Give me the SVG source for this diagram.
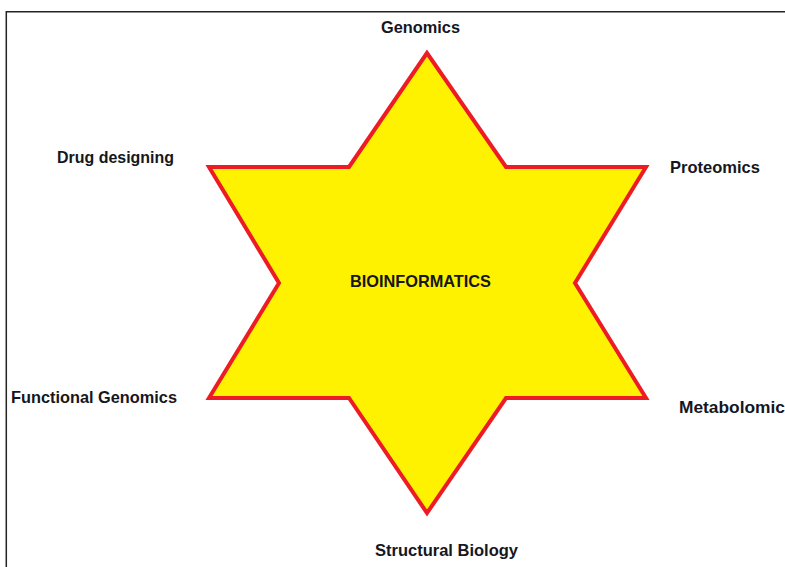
<svg xmlns="http://www.w3.org/2000/svg" width="785" height="567" viewBox="0 0 785 567">
<style>
.lbl{font-family:"Liberation Sans",Arial,sans-serif;font-weight:bold;font-size:17px;fill:#16161e;}
.star{fill:#fff200;stroke:#ed1c24;stroke-width:4;stroke-linejoin:miter;}
.frame{fill:none;stroke:#222;stroke-width:1.5;}
</style>
<rect width="785" height="567" fill="#ffffff"/>
<path class="frame" d="M6.3,567 V11.7 H785"/>
<g id="star">
<polygon class="star" points="427,53 349,167 209,167 279,283 209,398 349,398 427,513 506,398 646,398 575,283 646,167 506,167"/>
<text class="lbl" x="420.5" y="286.5" text-anchor="middle" textLength="141" lengthAdjust="spacingAndGlyphs">BIOINFORMATICS</text>
</g>
<g id="genomics"><text class="lbl" x="381" y="32.5" textLength="79" lengthAdjust="spacingAndGlyphs">Genomics</text></g>
<g id="drug"><text class="lbl" x="57" y="162.5" textLength="117" lengthAdjust="spacingAndGlyphs">Drug designing</text></g>
<g id="proteomics"><text class="lbl" x="670" y="172.5" textLength="90" lengthAdjust="spacingAndGlyphs">Proteomics</text></g>
<g id="functional"><text class="lbl" x="11" y="402.5" textLength="166" lengthAdjust="spacingAndGlyphs">Functional Genomics</text></g>
<g id="metabolomic"><text class="lbl" x="679" y="412.5" textLength="106" lengthAdjust="spacingAndGlyphs">Metabolomic</text></g>
<g id="structural"><text class="lbl" x="375" y="555.5" textLength="143" lengthAdjust="spacingAndGlyphs">Structural Biology</text></g>
<g id="connectors"></g>
</svg>
